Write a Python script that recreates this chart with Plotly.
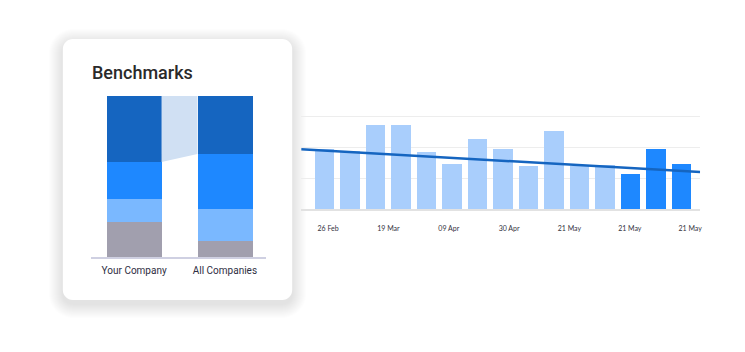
import numpy as np
import plotly.graph_objects as go

W, H = 745, 352

# ---------------- data ----------------
bench_categories = ["Your Company", "All Companies"]
bench_gray = [22, 10]
bench_light = [14, 20]
bench_mid = [23, 34]
bench_dark = [41, 36]

trend_dates = ["26 Feb", "19 Mar", "09 Apr", "30 Apr", "21 May", "21 May", "21 May"]
weekly_values = [1.94, 1.87, 2.71, 2.71, 1.84, 1.45, 2.26, 1.94, 1.39, 2.52, 1.39, 1.42, 1.13, 1.94, 1.45]
weekly_highlight = [False] * 12 + [True] * 3
trend_line = [1.93, 1.19]   # trend value at start and end of the period

# ---------------- styles ----------------
C_DARK = "#1565C0"
C_MID = "#1E88FF"
C_LIGHT = "#7AB8FF"
C_GRAY = "#A19FAE"
C_CONN = "#D0E0F3"
C_BAR_LIGHT = "#A9CEFC"
C_BAR_DARK = "#1E88FF"


def px(x):
    return x / W


def py(y):
    return 1 - y / H


def rrect(x0, y0, x1, y1, r):
    k = 0.5523 * r
    def P(x, y):
        return f"{px(x):.5f},{py(y):.5f}"
    d = f"M {P(x0 + r, y0)} L {P(x1 - r, y0)} "
    d += f"C {P(x1 - r + k, y0)} {P(x1, y0 + r - k)} {P(x1, y0 + r)} "
    d += f"L {P(x1, y1 - r)} "
    d += f"C {P(x1, y1 - r + k)} {P(x1 - r + k, y1)} {P(x1 - r, y1)} "
    d += f"L {P(x0 + r, y1)} "
    d += f"C {P(x0 + r - k, y1)} {P(x0, y1 - r + k)} {P(x0, y1 - r)} "
    d += f"L {P(x0, y0 + r)} "
    d += f"C {P(x0, y0 + r - k)} {P(x0 + r - k, y0)} {P(x0 + r, y0)} Z"
    return d


fig = go.Figure()

# ---- benchmarks stacked bars ----
bx = list(range(len(bench_categories)))
bw = 0.604
for vals, col in [(bench_gray, C_GRAY), (bench_light, C_LIGHT), (bench_mid, C_MID), (bench_dark, C_DARK)]:
    fig.add_trace(go.Bar(x=bx, y=vals, width=bw, marker=dict(color=col, line=dict(width=0)),
                         xaxis="x", yaxis="y", showlegend=False, hoverinfo="skip"))

tot = [g + l + m + d for g, l, m, d in zip(bench_gray, bench_light, bench_mid, bench_dark)]
low = [t - d for t, d in zip(tot, bench_dark)]
fig.add_trace(go.Scatter(
    x=[bx[0] + bw / 2, bx[1] - bw / 2, bx[1] - bw / 2, bx[0] + bw / 2],
    y=[tot[0], tot[1], low[1], low[0]],
    fill="toself", fillcolor=C_CONN, mode="lines", line=dict(width=0),
    xaxis="x", yaxis="y", showlegend=False, hoverinfo="skip"))

# ---- weekly bars ----
wx = list(range(len(weekly_values)))
fig.add_trace(go.Bar(x=wx, y=weekly_values, width=0.76,
                     marker=dict(color=[C_BAR_DARK if h else C_BAR_LIGHT for h in weekly_highlight],
                                 line=dict(width=0)),
                     xaxis="x2", yaxis="y2", showlegend=False, hoverinfo="skip"))

fig.add_trace(go.Scatter(x=[0, 1], y=trend_line, mode="lines",
                         line=dict(color=C_DARK, width=2.5),
                         xaxis="x3", yaxis="y2", showlegend=False, hoverinfo="skip"))

# ---- card + shadow ----
shapes = []
cx0, cy0, cx1, cy1 = 63, 39, 293, 300
for i in range(14, 0, -1):
    shapes.append(dict(type="path", path=rrect(cx0 - i, cy0 - i + 4, cx1 + i, cy1 + i + 4, 10 + i),
                       xref="paper", yref="paper", fillcolor="rgba(0,0,0,0.006)",
                       line=dict(width=0), layer="below"))
shapes.append(dict(type="path", path=rrect(cx0, cy0, cx1, cy1, 10), xref="paper", yref="paper",
                   fillcolor="#FFFFFF", line=dict(width=0), layer="below"))

tick_pos = np.linspace(0.0675, 0.975, len(trend_dates))

fig.update_layout(
    width=W, height=H, autosize=False,
    margin=dict(l=0, r=0, t=0, b=0),
    paper_bgcolor="#FFFFFF", plot_bgcolor="rgba(0,0,0,0)",
    barmode="stack", bargap=0,
    shapes=shapes,
    xaxis=dict(domain=[px(91), px(267)], range=[-0.478, 1.456], anchor="y",
               tickvals=bx, ticktext=bench_categories, showgrid=False, zeroline=False,
               showline=True, linecolor="#CFD0E2", linewidth=2,
               ticks="", tickfont=dict(family="Roboto", size=10, color="#2E2E42"),
               ticklabelstandoff=3, fixedrange=True),
    yaxis=dict(domain=[py(257), py(96)], range=[0, 100], anchor="x",
               showgrid=False, zeroline=False, showticklabels=False, showline=False),
    xaxis2=dict(domain=[px(302), px(702)], range=[-0.919, 14.724], anchor="y2",
                showgrid=False, zeroline=False, showticklabels=False,
                showline=True, linecolor="#E2E2E2", linewidth=2),
    xaxis3=dict(domain=[px(302), px(702)], range=[0, 1], anchor="y2", overlaying="x2",
                showgrid=False, zeroline=False, showline=False,
                tickvals=list(tick_pos), ticktext=trend_dates, ticks="",
                tickfont=dict(family="Lato", size=7, color="#333340"),
                ticklabelstandoff=14),
    yaxis2=dict(domain=[py(209), py(114)], range=[0, 3.065], anchor="x2",
                tickvals=[1, 2, 3], showgrid=True, gridcolor="#EDEDED", gridwidth=1,
                zeroline=False, showticklabels=False, showline=False),
    annotations=[dict(text="Benchmarks", x=px(90), y=py(72), xref="paper", yref="paper",
                      xanchor="left", yanchor="middle", showarrow=False,
                      font=dict(family="Roboto", size=18, color="#2A2A2A", weight=500))],
)

fig.write_html("out.html")
